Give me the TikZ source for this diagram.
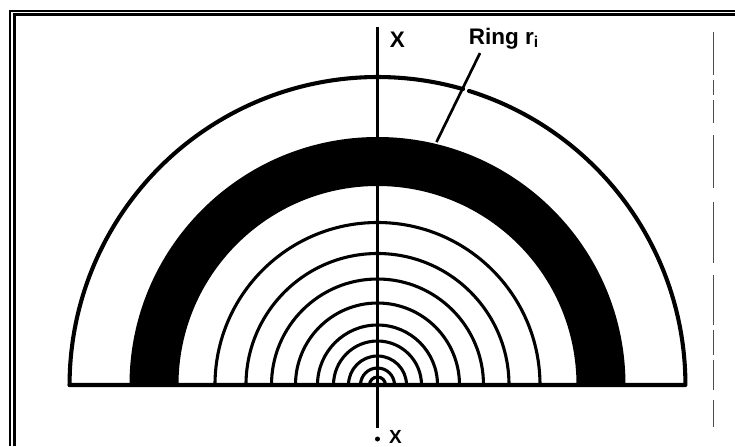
\documentclass[tikz,border=0pt]{standalone}
\usepackage{fontspec}
\setmainfont{Liberation Sans}

\tikzset{
  ringline/.style={line width=2.9pt,line cap=round,line join=round},
  thinring/.style={line width=2.2pt},
  axisline/.style={line width=1.9pt},
  frameline/.style={line width=1.5pt},
  edgeline/.style={line width=0.4pt,black!70},
  axislabel/.style={inner sep=0pt,font=\bfseries\fontsize{13.5}{13.5}\selectfont}
}

\begin{document}
\begin{tikzpicture}[scale=0.025]
        \useasboundingbox (-377.5,-61) rectangle (357.5,385);
        % all lengths in pixels of the scan, origin at the centre of the rings
        \coordinate (O) at (0,0);
        \coordinate (L) at (-308,0);
        \coordinate (R) at (308,0);
        \coordinate (T) at (0,358);
        \coordinate (F) at (0,-43);
        \coordinate (Q) at (102.5,332);
        \coordinate (P) at (59,243);

        % double frame
        \draw[frameline] (-367.5,-61) -- (-367.5,374) -- (357.5,374);
        \draw[frameline] (-363,-61) -- (-363,370.5) -- (357.5,370.5);
        % broken edge at the right
        \foreach \ya/\yb in {353/310,305/290,285/262,250/197,183/122,110/60,55/30,25/-5,-15/-42}
            \draw[edgeline] (336,\ya) -- (336,\yb);

        % black ring
        \fill (-248,0) arc (180:0:248) -- (199,0) arc (0:180:199) -- cycle;

        % rings inside
        \foreach \r in {8,17,29,44,60,82,106,131.5,162.5}
            \draw[thinring] (\r,0) arc (0:180:\r);

        % outer ring has a gap for the line
        \draw[ringline] (L) -- (R) arc (0:72.7:308);
        \draw[ringline] (L) arc (180:73.9:308);

        \draw[axisline] (T) -- (F);
        \fill (0,-54) circle (2.5);

        \node[axislabel,font=\bfseries\fontsize{16}{16}\selectfont] (xtop) at (20,345) {X};
        \node[axislabel] (xbottom) at (18,-51.5) {X};
        \node[axislabel,anchor=base west,font=\bfseries\fontsize{16}{16}\selectfont] (ring) at (91,341) {Ring r\textsubscript{i}};
        \draw[axisline] (Q) -- (P);
\end{tikzpicture}
\end{document}
